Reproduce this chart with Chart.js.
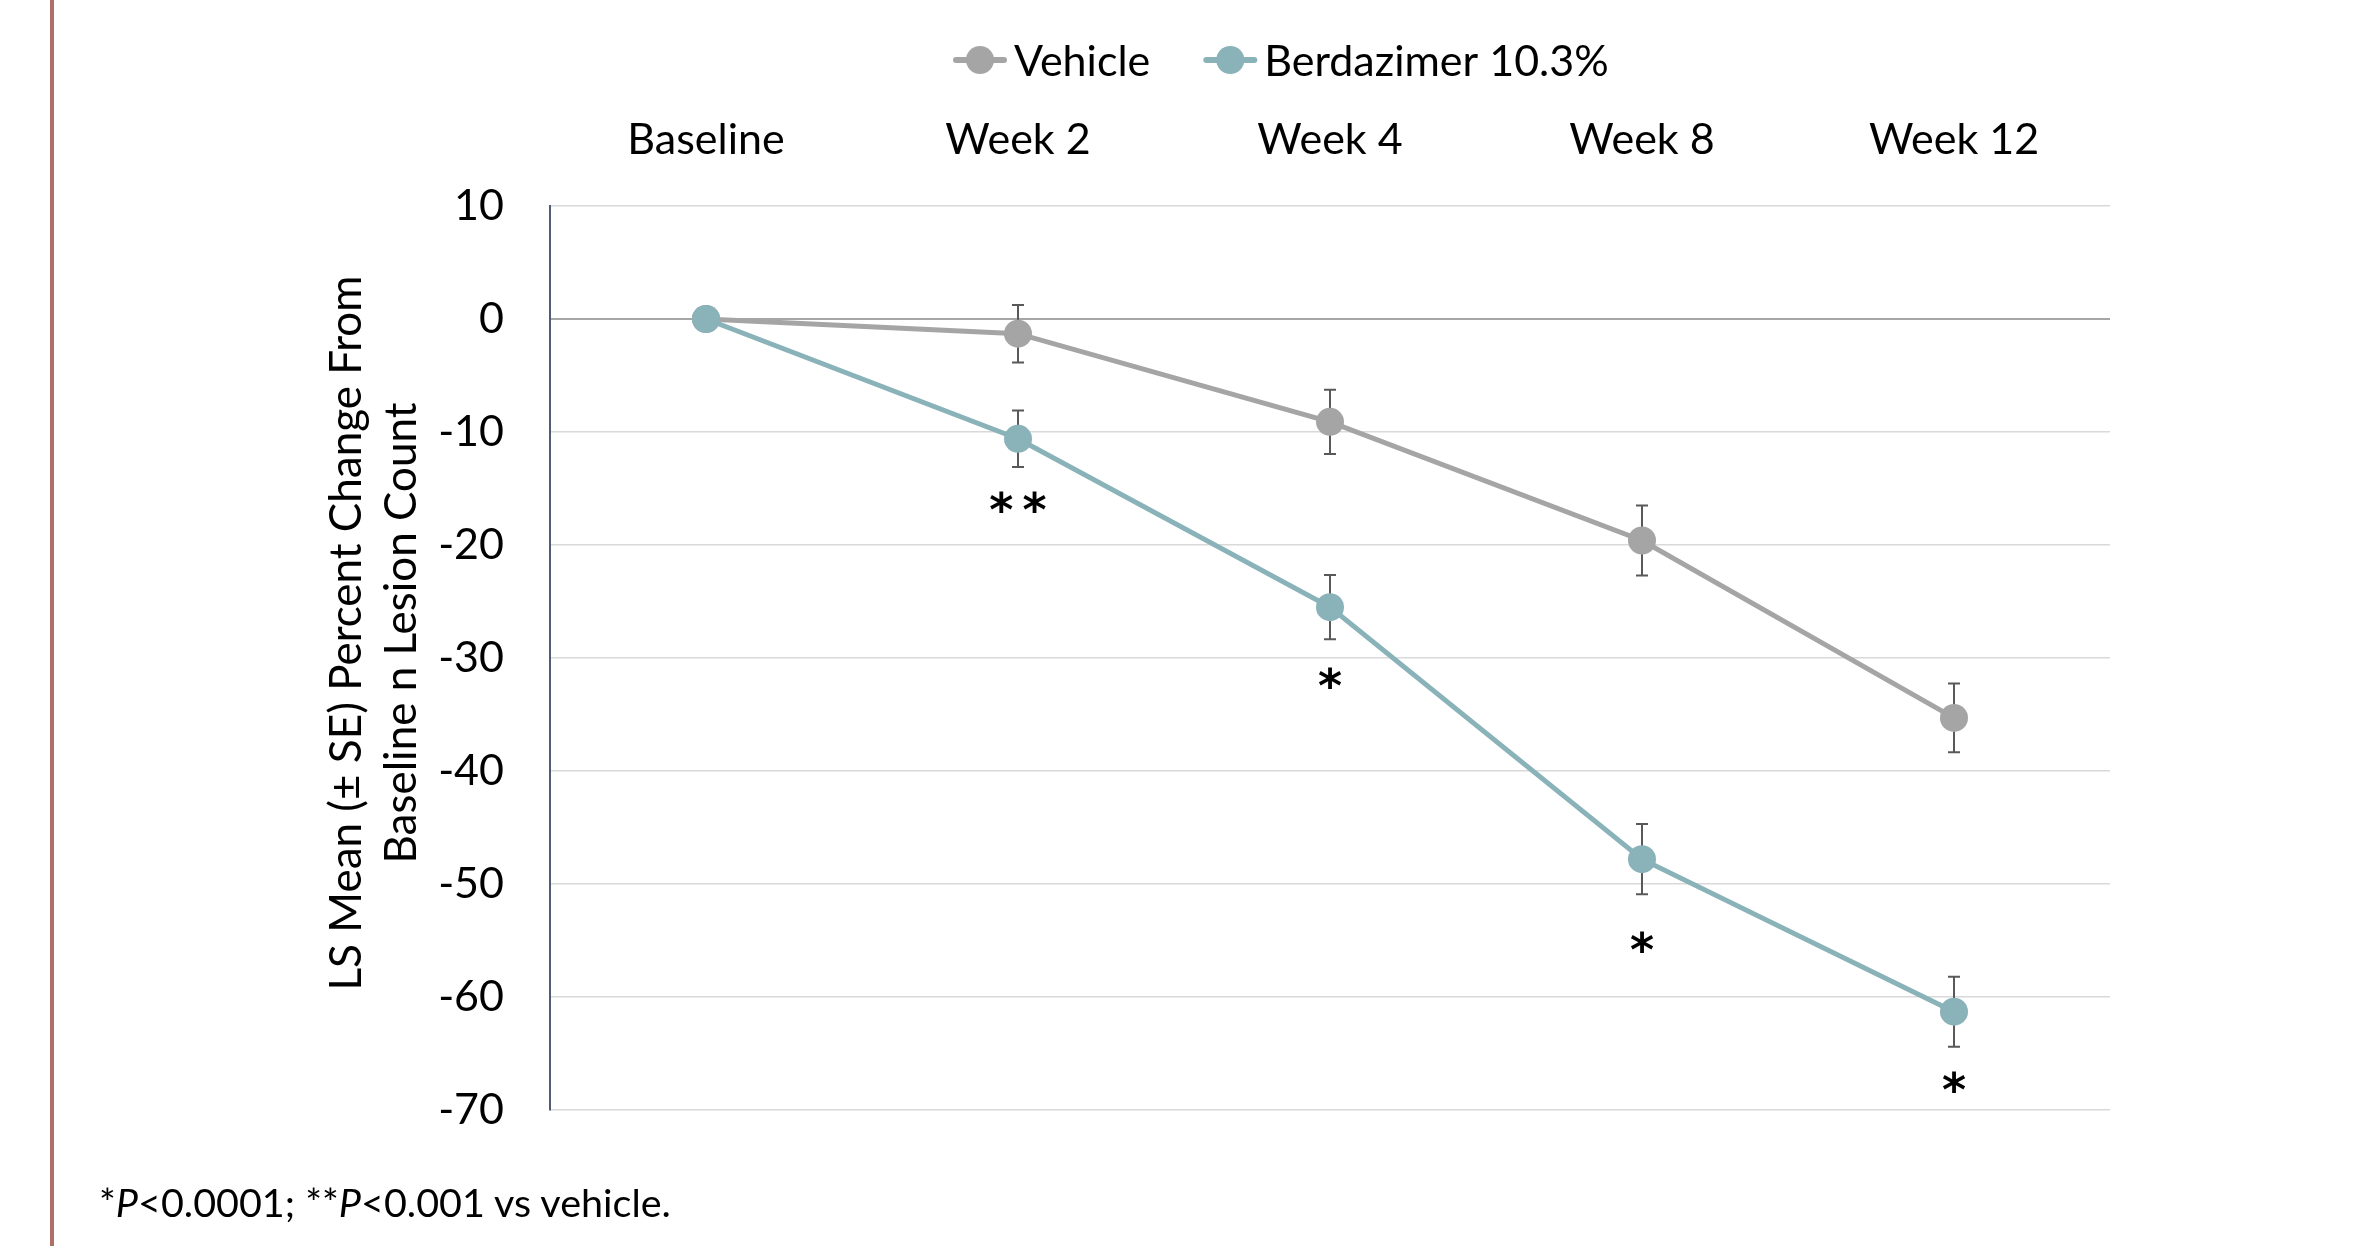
<!DOCTYPE html>
<html>
<head>
<meta charset="utf-8">
<script src="https://cdn.jsdelivr.net/npm/chart.js@4.4.1/dist/chart.umd.min.js"></script>
<style>
  body { margin: 0; background: #fff; }
  #wrap { position: relative; width: 2357px; height: 1246px; }
  #redline { position: absolute; left: 50px; top: 0; width: 4px; height: 1246px; background: #B07068; }
  #note { position: absolute; left: 99px; top: 1178px; font: 39.5px Lato, sans-serif; line-height: 48px; color: #000; white-space: nowrap; }
</style>
</head>
<body>
<div id="wrap">
  <canvas id="chart" width="2357" height="1246"></canvas>
  <div id="redline"></div>
  <div id="note">*<i>P</i>&lt;0.0001; **<i>P</i>&lt;0.001 vs vehicle.</div>
</div>
<script>
// 데이터
const labels = ['Baseline', 'Week 2', 'Week 4', 'Week 8', 'Week 12'];
const vehicle = [0, -1.3, -9.1, -19.6, -35.3];
const vehicleSE = [null, 2.55, 2.85, 3.1, 3.05];
const berd = [0, -10.6, -25.5, -47.8, -61.3];
const berdSE = [null, 2.5, 2.85, 3.1, 3.1];
// 유의성 표시 (별표) 와 그 위치 값
const stars = [null, '**', '*', '*', '*'];
const starY = [null, -16.5, -32.0, -55.4, -67.8];
const yTicks = [10, 0, -10, -20, -30, -40, -50, -60, -70];

const seriesNames = ['Vehicle', 'Berdazimer 10.3%'];
const colors = ['#A5A5A5', '#8AB2B9'];
const yTitle = ['LS Mean (\u00B1 SE) Percent Change From', 'Baseline n Lesion Count'];

Chart.defaults.font.family = 'Lato, sans-serif';
Chart.defaults.color = '#000';

// 에러바, 별표, 범례, 축 제목
const extras = {
  id: 'extras',
  beforeDatasetsDraw(chart) {
    const ctx = chart.ctx;
    const xs = chart.scales.x, ys = chart.scales.y;
    ctx.save();
    ctx.strokeStyle = '#595959';
    ctx.lineWidth = 2;
    [[vehicle, vehicleSE], [berd, berdSE]].forEach(([vals, se]) => {
      se.forEach((e, i) => {
        if (!e) return;
        const px = xs.getPixelForValue(i);
        const top = ys.getPixelForValue(vals[i] + e);
        const bot = ys.getPixelForValue(vals[i] - e);
        ctx.beginPath();
        ctx.moveTo(px, top); ctx.lineTo(px, bot);
        ctx.moveTo(px - 6, top); ctx.lineTo(px + 6, top);
        ctx.moveTo(px - 6, bot); ctx.lineTo(px + 6, bot);
        ctx.stroke();
      });
    });
    ctx.restore();
  },
  afterDraw(chart) {
    const ctx = chart.ctx;
    const xs = chart.scales.x, ys = chart.scales.y;
    ctx.save();

    // 별표
    ctx.font = 'bold 46px "DejaVu Sans", sans-serif';
    ctx.textAlign = 'center';
    ctx.textBaseline = 'alphabetic';
    ctx.fillStyle = '#000';
    stars.forEach((s, i) => {
      if (!s) return;
      ctx.fillText(s.split('').join('\u2009'), xs.getPixelForValue(i), ys.getPixelForValue(starY[i]) + 21);
    });

    // 범례
    ctx.font = '43px Lato, sans-serif';
    ctx.textAlign = 'left';
    ctx.textBaseline = 'middle';
    let lx = 956;
    const ly = 60;
    seriesNames.forEach((name, i) => {
      ctx.strokeStyle = colors[i];
      ctx.lineWidth = 6;
      ctx.lineCap = 'round';
      ctx.beginPath();
      ctx.moveTo(lx, ly); ctx.lineTo(lx + 48, ly);
      ctx.stroke();
      ctx.fillStyle = colors[i];
      ctx.beginPath();
      ctx.arc(lx + 24, ly, 14, 0, Math.PI * 2);
      ctx.fill();
      ctx.fillStyle = '#000';
      ctx.fillText(name, lx + 58, ly + 2);
      lx += 58 + ctx.measureText(name).width + 56;
    });

    // y축 제목
    ctx.font = '44px Lato, sans-serif';
    ctx.textAlign = 'center';
    ctx.textBaseline = 'alphabetic';
    [361, 416].forEach((bx, i) => {
      ctx.save();
      ctx.translate(bx, 633);
      ctx.rotate(-Math.PI / 2);
      ctx.fillText(yTitle[i], 0, 0);
      ctx.restore();
    });
    ctx.restore();
  }
};

const chart = new Chart(document.getElementById('chart'), {
  type: 'line',
  data: {
    labels: labels,
    datasets: [
      {
        label: seriesNames[0],
        data: vehicle,
        borderColor: colors[0],
        backgroundColor: colors[0],
        pointBackgroundColor: colors[0],
        borderWidth: 5,
        pointRadius: 14,
        pointBorderWidth: 0,
        tension: 0,
        order: 1,
      },
      {
        label: seriesNames[1],
        data: berd,
        borderColor: colors[1],
        backgroundColor: colors[1],
        pointBackgroundColor: colors[1],
        borderWidth: 5,
        pointRadius: 14,
        pointBorderWidth: 0,
        tension: 0,
        order: 0,
      },
    ],
  },
  options: {
    responsive: false,
    animation: false,
    events: [],
    layout: { padding: { left: 0, right: 247, top: 0, bottom: 136 } },
    plugins: { legend: { display: false }, tooltip: { enabled: false } },
    scales: {
      x: {
        position: 'top',
        offset: true,
        grid: { display: false, drawTicks: false },
        border: { display: false },
        ticks: { font: { size: 43 }, padding: 40, maxRotation: 0 },
        afterFit: s => { s.height = 206; },
      },
      y: {
        min: -70,
        max: 10,
        afterBuildTicks: s => { s.ticks = yTicks.map(v => ({ value: v })); },
        grid: {
          drawTicks: false,
          color: c => (c.tick && c.tick.value === 0 ? '#A6A6A6' : '#D9D9D9'),
          lineWidth: c => (c.tick && c.tick.value === 0 ? 2 : 1.5),
        },
        border: { color: '#4F5D73', width: 2 },
        ticks: { font: { size: 43 }, padding: 46 },
        afterFit: s => { s.width = 550; },
      },
    },
  },
  plugins: [extras],
});
</script>
</body>
</html>
